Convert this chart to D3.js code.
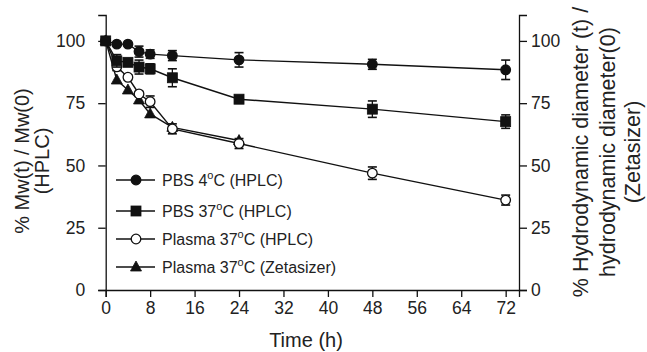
<!DOCTYPE html>
<html>
<head>
<meta charset="utf-8">
<script src="https://cdn.jsdelivr.net/npm/d3@7"></script>
<style>
  html, body { margin: 0; padding: 0; background: #fff; }
  svg { display: block; font-family: "Liberation Sans", Arial, sans-serif; }
</style>
</head>
<body>
<svg id="chart" width="647" height="352"></svg>
<script>
// ---- data ----
const timePoints = [0, 2, 4, 6, 8, 12, 24, 48, 72];
const pbs4 = [100, 98.7, 98.7, 95.7, 94.7, 94.1, 92.4, 90.6, 88.4];
const pbs4Err = [0, 0.5, 0.5, 2.2, 1.7, 2.0, 2.9, 2.0, 3.9];
const pbs37 = [100, 92.0, 91.4, 89.5, 88.8, 85.2, 76.6, 72.6, 67.6];
const pbs37Err = [0, 2.5, 1.5, 2.8, 2.0, 3.6, 1.0, 3.3, 2.7];
const plasmaHplc = [100, 89.6, 85.4, 78.7, 75.6, 64.7, 58.8, 46.9, 36.1];
const plasmaHplcErr = [0, 1.5, 1.0, 1.0, 2.3, 2.0, 2.0, 2.5, 2.0];
const zetaTime = [0, 2, 4, 6, 8, 12, 24];
const plasmaZeta = [100, 84.3, 80.3, 76.3, 70.7, 65.3, 60.0];
const xTicks = [0, 8, 16, 24, 32, 40, 48, 56, 64, 72];
const yTicks = [0, 25, 50, 75, 100];
const legendLabels = [
  ["PBS 4", "C (HPLC)"],
  ["PBS 37", "C (HPLC)"],
  ["Plasma 37", "C (HPLC)"],
  ["Plasma 37", "C (Zetasizer)"]
];

// ---- layout ----
const svg = d3.select("#chart");
const x = d3.scaleLinear().domain([0, 74.4]).range([105.7, 519]);
const y = d3.scaleLinear().domain([0, 110.4]).range([290, 15]);
const ink = "#111";

// axes
const gx = svg.append("g").attr("transform", "translate(0,290)")
  .call(d3.axisBottom(x).tickValues(xTicks).tickSizeOuter(0).tickSize(7).tickPadding(5));
const gl = svg.append("g").attr("transform", "translate(105.7,0)")
  .call(d3.axisLeft(y).tickValues(yTicks).tickSizeOuter(0).tickSize(7.5).tickPadding(13));
const gr = svg.append("g").attr("transform", "translate(519,0)")
  .call(d3.axisRight(y).tickValues(yTicks).tickSizeOuter(0).tickSize(8).tickPadding(4));
[gx, gl, gr].forEach(g => {
  g.selectAll("path").attr("stroke", ink).attr("stroke-width", 1.3);
  g.selectAll("line").attr("stroke", ink).attr("stroke-width", 1.3);
  g.selectAll("text").attr("fill", "#222").style("font-size", "17.5px")
    .style("font-family", "'Liberation Sans', Arial, sans-serif");
});

// axis titles
svg.append("text").attr("x", 306).attr("y", 347).attr("text-anchor", "middle")
  .style("font-size", "20px").attr("fill", "#222").text("Time (h)");

const lt = svg.append("text").attr("transform", "translate(29,161) rotate(-90)")
  .attr("text-anchor", "middle").style("font-size", "20px").attr("fill", "#222");
lt.append("tspan").attr("x", 0).attr("dy", 0).text("% Mw(t) / Mw(0)");
lt.append("tspan").attr("x", 0).attr("dy", 19.5).text("(HPLC)");

const rt = svg.append("text").attr("transform", "translate(588,152) rotate(-90)")
  .attr("text-anchor", "middle").style("font-size", "21.5px").attr("fill", "#222");
rt.append("tspan").attr("x", 0).attr("dy", 0).text("% Hydrodynamic diameter (t) /");
rt.append("tspan").attr("x", 0).attr("dy", 26.5).text("hydrodynamic diameter(0)");
rt.append("tspan").attr("x", 0).attr("dy", 25.5).text("(Zetasizer)");

// series
const series = [
  { t: zetaTime, v: plasmaZeta, e: null, shape: "tri", fill: ink },
  { t: timePoints, v: plasmaHplc, e: plasmaHplcErr, shape: "circle", fill: "#fff" },
  { t: timePoints, v: pbs4, e: pbs4Err, shape: "circle", fill: ink },
  { t: timePoints, v: pbs37, e: pbs37Err, shape: "square", fill: ink }
];
const line = d3.line().x(d => x(d[0])).y(d => y(d[1]));

function drawMarker(g, shape, cx, cy, fill) {
  if (shape === "circle") {
    g.append("circle").attr("cx", cx).attr("cy", cy).attr("r", 4.8)
      .attr("fill", fill).attr("stroke", ink).attr("stroke-width", 1.3);
  } else if (shape === "square") {
    g.append("rect").attr("x", cx - 5).attr("y", cy - 5).attr("width", 10).attr("height", 10)
      .attr("fill", fill).attr("stroke", ink).attr("stroke-width", 0.8);
  } else {
    g.append("path").attr("d", `M${cx},${cy - 6}L${cx + 5.5},${cy + 4}L${cx - 5.5},${cy + 4}Z`)
      .attr("fill", fill).attr("stroke", ink).attr("stroke-width", 0.8);
  }
}

// lines
series.forEach(s => {
  const pts = s.t.map((t, i) => [t, s.v[i]]);
  svg.append("path").attr("d", line(pts)).attr("fill", "none")
    .attr("stroke", ink).attr("stroke-width", 1.4);
});
// error bars + markers
series.forEach(s => {
  const g = svg.append("g");
  s.t.forEach((t, i) => {
    if (s.e && s.e[i] > 0) {
      const cx = x(t), y1 = y(s.v[i] + s.e[i]), y2 = y(s.v[i] - s.e[i]);
      g.append("line").attr("x1", cx).attr("x2", cx).attr("y1", y1).attr("y2", y2)
        .attr("stroke", ink).attr("stroke-width", 1.3);
      [y1, y2].forEach(yy => g.append("line").attr("x1", cx - 4.5).attr("x2", cx + 4.5)
        .attr("y1", yy).attr("y2", yy).attr("stroke", ink).attr("stroke-width", 1.6));
    }
  });
  s.t.forEach((t, i) => drawMarker(g, s.shape, x(t), y(s.v[i]), s.fill));
});

// legend
const legendOrder = [
  { shape: "circle", fill: ink },
  { shape: "square", fill: ink },
  { shape: "circle", fill: "#fff" },
  { shape: "tri", fill: ink }
];
const legendY = [180, 211, 239, 267];
legendOrder.forEach((l, i) => {
  const g = svg.append("g");
  const yy = legendY[i];
  g.append("line").attr("x1", 116).attr("x2", 155).attr("y1", yy).attr("y2", yy)
    .attr("stroke", ink).attr("stroke-width", 1.4);
  drawMarker(g, l.shape, 136, yy, l.fill);
  const t = g.append("text").attr("x", 162).attr("y", yy + 5.5)
    .style("font-size", "16px").attr("fill", "#222");
  t.append("tspan").text(legendLabels[i][0]);
  t.append("tspan").attr("dy", -6.5).style("font-size", "11px").text("o");
  t.append("tspan").attr("dy", 6.5).text(legendLabels[i][1]);
});
</script>
</body>
</html>
